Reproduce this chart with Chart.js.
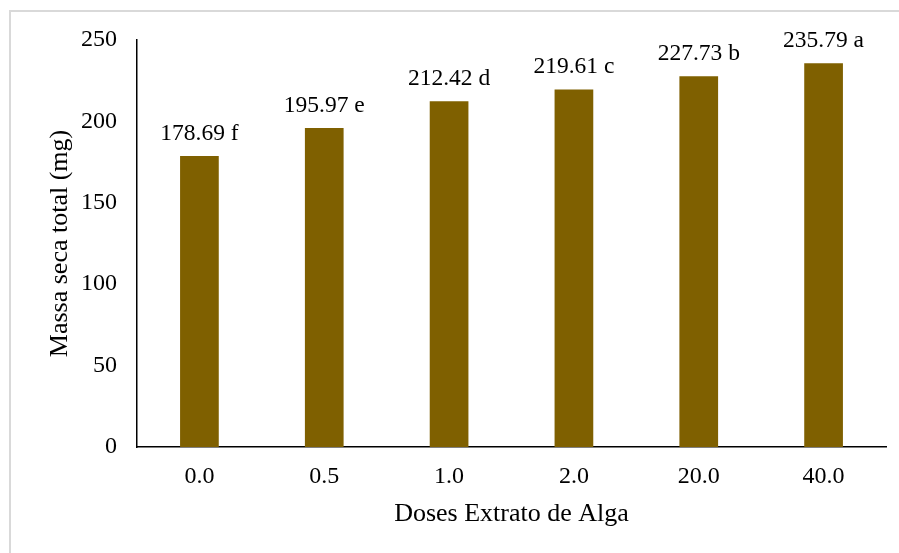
<!DOCTYPE html>
<html>
<head>
<meta charset="utf-8">
<script src="https://cdn.jsdelivr.net/npm/chart.js@4"></script>
<style>
  body { margin: 0; background: #fff; }
  .frame { position: absolute; left: 9px; top: 10px; width: 900px; height: 560px; border: 2px solid #d9d9d9; }
  #chart { position: absolute; left: 0; top: 0; }
</style>
</head>
<body>
<div class="frame"></div>
<canvas id="chart" width="899" height="553"></canvas>
<script>
const doses = ['0.0', '0.5', '1.0', '2.0', '20.0', '40.0'];
const massaSeca = [178.69, 195.97, 212.42, 219.61, 227.73, 235.79];
const letras = ['f', 'e', 'd', 'c', 'b', 'a'];

const fonte = 'Liberation Serif, Times New Roman, serif';

// rotulos em cima das barras
const rotulos = {
  id: 'rotulos',
  afterDatasetsDraw(chart) {
    const ctx = chart.ctx;
    const meta = chart.getDatasetMeta(0);
    ctx.save();
    ctx.font = '23.5px ' + fonte;
    ctx.fillStyle = '#000';
    ctx.textAlign = 'center';
    ctx.textBaseline = 'alphabetic';
    meta.data.forEach(function(bar, i) {
      ctx.fillText(massaSeca[i].toFixed(2) + ' ' + letras[i], bar.x, bar.y - 16);
    });
    ctx.restore();
  }
};

new Chart(document.getElementById('chart'), {
  type: 'bar',
  data: {
    labels: doses,
    datasets: [{
      data: massaSeca,
      backgroundColor: '#7f6000',
      barPercentage: 0.31,
      categoryPercentage: 1
    }]
  },
  options: {
    responsive: false,
    animation: false,
    layout: { padding: { top: 40, right: 13, bottom: 0, left: 0 } },
    plugins: { legend: { display: false }, tooltip: { enabled: false } },
    scales: {
      x: {
        grid: { display: false, drawTicks: false, tickLength: 0 },
        border: { display: true, color: '#000', width: 1.5 },
        ticks: { color: '#000', padding: 15, font: { family: fonte, size: 24 } },
        title: { display: true, text: 'Doses Extrato de Alga', color: '#000', padding: { top: 0, bottom: 23 }, font: { family: fonte, size: 26 } },
        afterFit(scale) { scale.height = 106; }
      },
      y: {
        min: 0,
        max: 250,
        grid: { display: false, drawTicks: false, tickLength: 0 },
        border: { display: true, color: '#000', width: 1.5 },
        ticks: { stepSize: 50, color: '#000', padding: 20, font: { family: fonte, size: 24 } },
        title: { display: true, text: 'Massa seca total (mg)', color: '#000', padding: { top: 45, bottom: 0 }, font: { family: fonte, size: 26 } },
        afterFit(scale) { scale.width = 137; }
      }
    }
  },
  plugins: [rotulos]
});
</script>
</body>
</html>
